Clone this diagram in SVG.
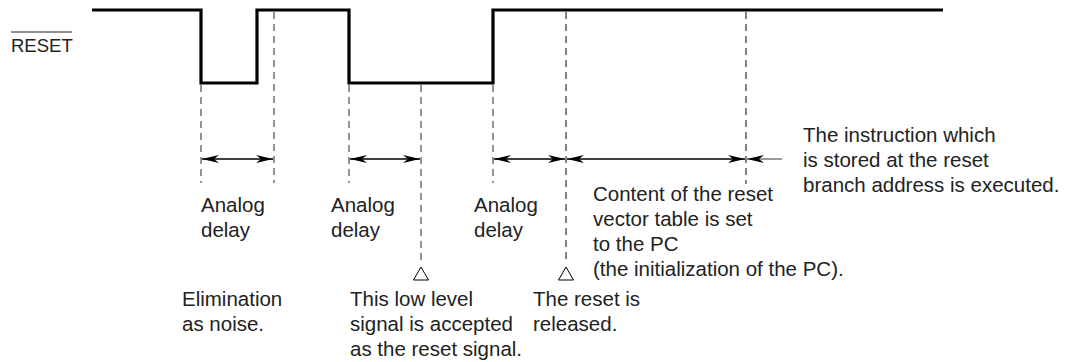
<svg xmlns="http://www.w3.org/2000/svg" width="1070" height="362" viewBox="0 0 1070 362">
<defs>
<marker id="ah" viewBox="0 0 17 8" refX="17" refY="4" markerWidth="17" markerHeight="8" markerUnits="userSpaceOnUse" orient="auto-start-reverse">
<path d="M0,0 L17,4 L0,8 L5,4 Z" fill="#000"/>
</marker>
</defs>
<style>
text{font-family:"Liberation Sans",Arial,sans-serif;font-size:20.5px;fill:#222}
.dash{stroke:#777;stroke-width:1.6;stroke-dasharray:7,5;fill:none}
.dash2{stroke:#333;stroke-width:1.2;stroke-dasharray:7,5;fill:none}
.dim{stroke:#000;stroke-width:1.3;fill:none;marker-start:url(#ah);marker-end:url(#ah)}
.tri{fill:#fff;stroke:#000;stroke-width:1}
</style>
<rect width="1070" height="362" fill="#fff"/>
<g id="signal">
<text x="11" y="52" style="font-size:18.5px">RESET</text>
<line x1="11" y1="32" x2="72" y2="32" stroke="#222" stroke-width="1.2"/>
<polyline points="92,10 201,10 201,83 257,83 257,10 349,10 349,83 493,83 493,10 943,10" fill="none" stroke="#000" stroke-width="3.2"/>
</g>
<g id="connectors">
<line class="dash" x1="201" y1="85" x2="201" y2="183"/>
<line class="dash" x1="274" y1="12" x2="274" y2="183"/>
<line class="dash" x1="349" y1="85" x2="349" y2="183"/>
<line class="dash" x1="421" y1="85" x2="421" y2="264"/>
<line class="dash" x1="493" y1="85" x2="493" y2="183"/>
<line class="dash2" x1="566" y1="12" x2="566" y2="264"/>
<line class="dash2" x1="746" y1="12" x2="746" y2="184"/>
<line class="dim" x1="202" y1="159" x2="273" y2="159"/>
<line class="dim" x1="350" y1="159" x2="420" y2="159"/>
<line class="dim" x1="494" y1="159" x2="565" y2="159"/>
<line class="dim" x1="567" y1="159" x2="745" y2="159"/>
<line x1="782" y1="159" x2="747" y2="159" stroke="#777" stroke-width="1.3" marker-end="url(#ah)"/>
</g>
<g id="markers">
<polygon class="tri" points="421,267 413.5,280 428.5,280"/>
<polygon class="tri" points="566,267 558.5,280 573.5,280"/>
</g>
<g id="label-delay1"><text x="201" y="212">Analog</text><text x="201" y="237">delay</text></g>
<g id="label-delay2"><text x="331" y="212">Analog</text><text x="331" y="237">delay</text></g>
<g id="label-delay3"><text x="474" y="212">Analog</text><text x="474" y="237">delay</text></g>
<g id="label-noise"><text x="182" y="306">Elimination</text><text x="182" y="331">as noise.</text></g>
<g id="label-accepted"><text x="350" y="306">This low level</text><text x="350" y="331">signal is accepted</text><text x="350" y="356">as the reset signal.</text></g>
<g id="label-released"><text x="533" y="306">The reset is</text><text x="533" y="331">released.</text></g>
<g id="label-vector"><text x="593" y="201">Content of the reset</text><text x="593" y="226">vector table is set</text><text x="593" y="251">to the PC</text><text x="593" y="276">(the initialization of the PC).</text></g>
<g id="label-instruction"><text x="803" y="142">The instruction which</text><text x="803" y="167">is stored at the reset</text><text x="803" y="192">branch address is executed.</text></g>
</svg>
